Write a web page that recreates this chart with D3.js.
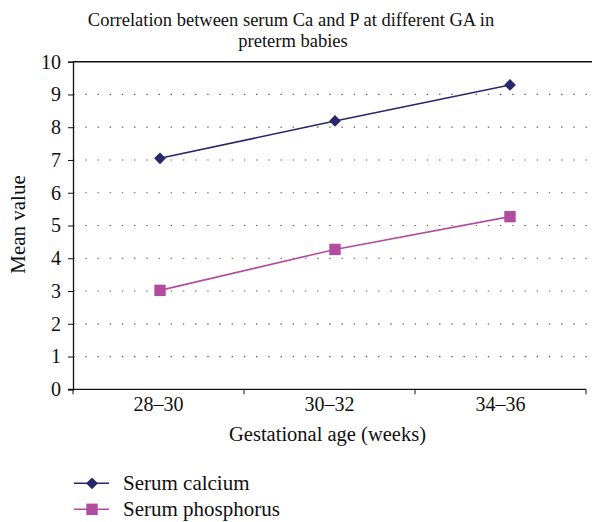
<!DOCTYPE html>
<html><head><meta charset="utf-8">
<script src="https://cdn.jsdelivr.net/npm/d3@7"></script>
<style>body{margin:0;background:#fff}svg{display:block}</style>
</head><body>
<svg id="c" width="595" height="522"></svg>
<script>
const categories = ["28–30", "30–32", "34–36"];
const calcium = [7.05, 8.19, 9.29];
const phosphorus = [3.02, 4.27, 5.27];
const yTicks = [0,1,2,3,4,5,6,7,8,9,10];
const seriesNames = ["Serum calcium", "Serum phosphorus"];
const colors = ["#27276b", "#b24c9e"];

const svg = d3.select("#c");
const font = "'Liberation Serif','DejaVu Serif',serif";
const L = 73, R = 586, T = 61.7, B = 389.3;

const xBand = d3.scaleBand().domain(categories).range([L, R]);
const xPt = d3.scalePoint().domain(categories).range([160, 510]);
const y = d3.scaleLinear().domain([0, 10]).range([B, T]);

// gridlines
svg.append("g").selectAll("line").data(yTicks.filter(d => d > 0 && d < 10)).join("line")
  .attr("x1", L).attr("x2", 592).attr("y1", d => y(d)).attr("y2", d => y(d))
  .attr("stroke", "#666").attr("stroke-width", 1.2).attr("stroke-dasharray", "1.5,10.7");
// top line
svg.append("line").attr("x1", L).attr("x2", 592).attr("y1", y(10)).attr("y2", y(10))
  .attr("stroke", "#111").attr("stroke-width", 1.5);

// y axis
const ya = svg.append("g").attr("transform", `translate(${L},0)`)
  .call(d3.axisLeft(y).tickValues(yTicks).tickSize(5).tickPadding(7).tickFormat(d3.format("d")));
ya.select(".domain").attr("stroke", "#111").attr("stroke-width", 1.3);
ya.selectAll(".tick line").attr("stroke", "#111");
ya.selectAll("text").attr("font-family", font).attr("font-size", 20).attr("fill", "#111");

// x axis
const xa = svg.append("g").attr("transform", `translate(0,${B})`)
  .call(d3.axisBottom(xBand).tickSize(0).tickPadding(8));
xa.select(".domain").remove();
xa.append("line").attr("x1", L - 5).attr("x2", R).attr("y1", 0).attr("y2", 0)
  .attr("stroke", "#111").attr("stroke-width", 1.3);
xa.selectAll(".tick text").attr("font-family", font).attr("font-size", 20).attr("fill", "#111");
const bounds = categories.map(c => xBand(c)).concat([R]);
xa.selectAll(".btick").data(bounds).join("line").attr("class", "btick")
  .attr("x1", d => d).attr("x2", d => d).attr("y1", 0).attr("y2", 5).attr("stroke", "#111");

// title
const title = svg.append("text").attr("font-family", font).attr("font-size", 18.5)
  .attr("fill", "#111").attr("text-anchor", "middle");
title.append("tspan").attr("x", 291).attr("y", 26).text("Correlation between serum Ca and P at different GA in");
title.append("tspan").attr("x", 293).attr("y", 47).text("preterm babies");

// axis titles
svg.append("text").attr("transform", "translate(25,224.5) rotate(-90)")
  .attr("text-anchor", "middle").attr("font-family", font).attr("font-size", 21)
  .attr("fill", "#111").text("Mean value");
svg.append("text").attr("x", 327.5).attr("y", 441).attr("text-anchor", "middle")
  .attr("font-family", font).attr("font-size", 20.5).attr("fill", "#111")
  .text("Gestational age (weeks)");

// series
const line = d3.line().x((d, i) => xPt(categories[i])).y(d => y(d));
const symFor = i => d3.symbol().type(i === 0 ? d3.symbolDiamond2 : d3.symbolSquare).size(i === 0 ? 88 : 130);
[calcium, phosphorus].forEach((vals, si) => {
  svg.append("path").datum(vals).attr("d", line).attr("fill", "none")
    .attr("stroke", colors[si]).attr("stroke-width", 1.6);
  svg.append("g").selectAll("path").data(vals).join("path")
    .attr("transform", (d, i) => `translate(${xPt(categories[i])},${y(d)})`)
    .attr("d", symFor(si)).attr("fill", colors[si]);
});

// legend
const legY = [483.3, 509.3];
seriesNames.forEach((n, i) => {
  const g = svg.append("g");
  g.append("line").attr("x1", 74).attr("x2", 109).attr("y1", legY[i]).attr("y2", legY[i])
    .attr("stroke", colors[i]).attr("stroke-width", 1.6);
  g.append("path").attr("transform", `translate(92,${legY[i]})`).attr("d", symFor(i)).attr("fill", colors[i]);
  g.append("text").attr("x", 123).attr("y", legY[i] + 7).attr("font-family", font)
    .attr("font-size", 21).attr("fill", "#111").text(n);
});
</script>
</body></html>
